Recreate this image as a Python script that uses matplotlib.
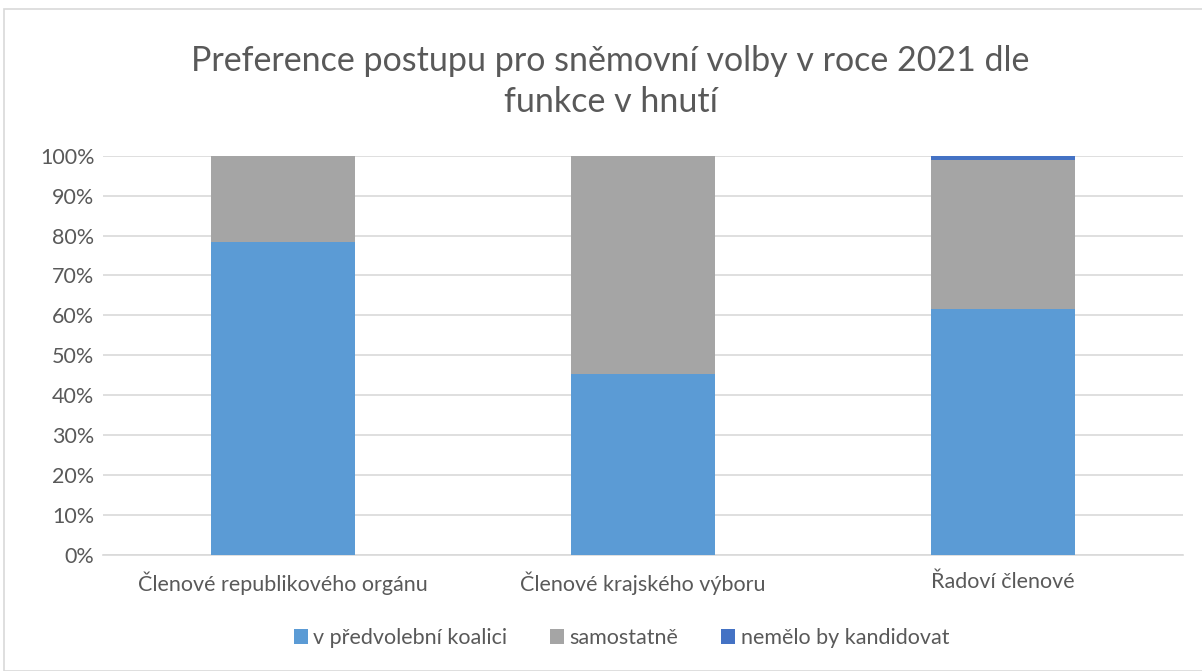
import matplotlib.pyplot as plt
import numpy as np
from matplotlib.patches import Rectangle
from matplotlib.ticker import PercentFormatter

plt.rcParams['font.family'] = ['Lato', 'DejaVu Sans']

# Data
categories = ["Členové republikového orgánu", "Členové krajského výboru", "Řadoví členové"]
koalice = [78.4, 45.4, 61.7]
samostatne = [21.6, 54.6, 37.2]
nekandidovat = [0.0, 0.0, 1.1]
series_names = ["v předvolební koalici", "samostatně", "nemělo by kandidovat"]
colors = ["#5B9BD5", "#A5A5A5", "#4472C4"]

fig = plt.figure(figsize=(12.02, 6.71), dpi=100)
ax = fig.add_axes([0.0855, 0.173, 0.899, 0.595])

x = np.arange(len(categories))
w = 0.40
bottom = np.zeros(len(categories))
for vals, name, c in zip([koalice, samostatne, nekandidovat], series_names, colors):
    ax.bar(x, vals, w, bottom=bottom, color=c, label=name, zorder=3)
    bottom += np.array(vals)

ax.set_xlim(-0.5, 2.5)
ax.set_ylim(0, 100)
ax.set_yticks(np.arange(0, 101, 10))
ax.yaxis.set_major_formatter(PercentFormatter(decimals=0))
ax.set_xticks(x)
ax.set_xticklabels(categories)
ax.grid(axis='y', color='#D9D9D9', linewidth=1.2, zorder=0)
for s in ['top', 'right', 'left']:
    ax.spines[s].set_visible(False)
ax.spines['bottom'].set_color('#D9D9D9')
ax.spines['bottom'].set_linewidth(1.2)
ax.tick_params(axis='both', length=0, labelsize=15.5, colors='#595959')
ax.tick_params(axis='x', pad=12)
ax.tick_params(axis='y', pad=6)

fig.text(0.508, 0.879, "Preference postupu pro sněmovní volby v roce 2021 dle\nfunkce v hnutí",
         ha='center', va='center', fontsize=24.5, color='#595959', linespacing=1.35)

fig.legend(loc='center', bbox_to_anchor=(0.517, 0.049), ncol=3, frameon=False,
           fontsize=15.5, handlelength=0.65, handleheight=0.65, handletextpad=0.25,
           columnspacing=2.0, labelcolor='#595959')

fig.patches.append(Rectangle((4 / 1202, 0.0), 1.2, 1 - 9 / 671, transform=fig.transFigure,
                             fill=False, edgecolor='#D9D9D9', linewidth=1.2))

fig.savefig("out.png", dpi=100)
